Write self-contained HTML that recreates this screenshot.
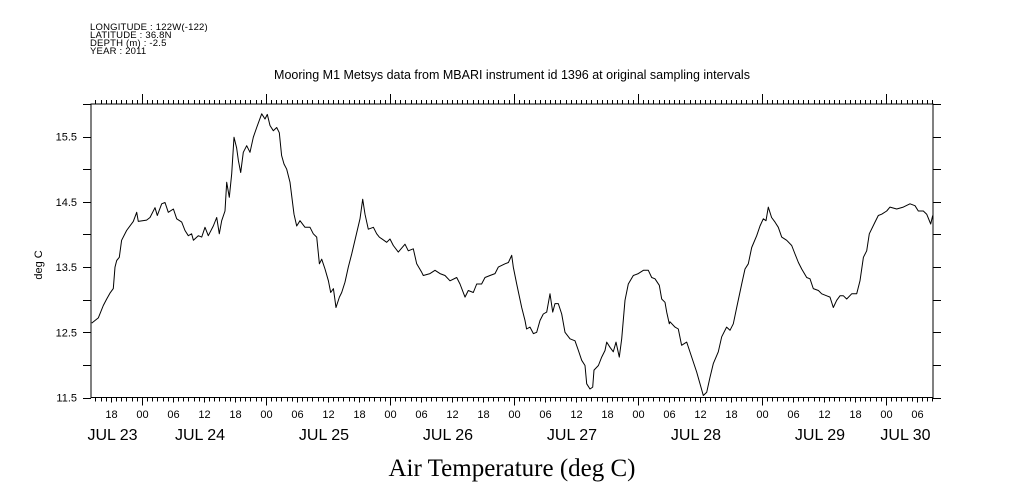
<!DOCTYPE html>
<html><head><meta charset="utf-8"><style>
html,body{margin:0;padding:0;background:#fff;}
svg{display:block;}
text{font-family:"Liberation Sans",sans-serif;fill:#000;}
</style></head><body>
<svg id="chart" width="1009" height="504" viewBox="0 0 1009 504" xmlns="http://www.w3.org/2000/svg">
<g font-size="9.5" letter-spacing="0.2">
<text x="90" y="30">LONGITUDE : 122W(-122)</text>
<text x="90" y="38">LATITUDE : 36.8N</text>
<text x="90" y="46">DEPTH (m) : -2.5</text>
<text x="90" y="54">YEAR : 2011</text>
</g>
<text x="512" y="79" text-anchor="middle" font-size="12.5">Mooring M1 Metsys data from MBARI instrument id 1396 at original sampling intervals</text>
<text x="512" y="476" text-anchor="middle" font-size="25" style="font-family:'Liberation Serif',serif">Air Temperature (deg C)</text>
<text transform="translate(42,265) rotate(-90)" text-anchor="middle" font-size="11">deg C</text>
<g id="axes"></g>
<g id="marks"></g>
</svg>
<script>
const hours = [-9.74,-8.45,-7.48,-6.84,-6.19,-5.55,-5.23,-4.90,-4.39,-3.94,-2.97,-1.68,-1.03,-0.71,0.90,1.55,2.52,2.97,3.81,4.45,5.10,6.07,6.71,7.68,8.32,8.97,9.61,9.94,10.90,11.55,12.20,12.84,13.81,14.45,14.97,15.42,16.07,16.39,16.90,17.36,17.81,18.32,18.65,19.10,19.61,20.26,20.91,21.55,22.20,23.16,23.81,24.26,24.78,25.42,26.07,26.58,27.03,27.49,28.00,28.65,29.42,29.94,30.58,31.55,32.52,33.16,33.81,34.33,34.78,35.42,36.07,36.52,37.04,37.55,38.20,38.65,39.29,39.94,40.58,41.42,42.20,42.71,43.16,43.81,44.78,45.42,45.94,
47.36,48.00,48.65,49.61,50.90,51.55,52.52,53.16,54.13,54.45,55.74,56.71,57.68,58.65,59.61,60.91,61.55,62.52,63.16,64.13,64.78,65.74,66.39,67.36,68.33,68.97,70.26,70.91,71.55,71.87,72.52,73.49,74.13,74.45,75.10,75.75,76.39,77.04,77.68,78.33,78.97,79.49,79.94,80.58,81.23,81.87,82.84,83.81,84.46,85.10,85.75,86.07,86.71,87.23,87.49,88.33,88.97,89.62,89.94,90.58,91.23,91.75,92.39,92.84,93.49,94.13,95.10,96.07,97.04,98.00,98.65,99.29,100.13,100.58,101.23,101.55,102.07,
102.20,103.16,103.81,104.45,105.42,106.39,107.36,108.00,108.65,109.29,109.94,110.58,111.55,112.20,113.16,113.81,114.45,115.10,116.07,116.71,117.36,118.00,118.97,119.62,120.26,120.78,121.23,121.87,122.52,123.16,123.81,124.78,125.75,126.39,127.04,127.68,128.65,129.29,129.94,130.91,131.55,132.52,133.16,133.81,134.46,135.10,135.75,136.39,137.36,138.33,138.97,139.62,140.26,140.78,141.88,142.52,143.17,144.13,144.78,146.07,147.36,148.65,149.62,150.26,151.23,151.88,152.65,153.04];
const temps = [12.64,12.72,12.91,13.01,13.10,13.17,13.50,13.60,13.65,13.91,14.06,14.20,14.34,14.20,14.22,14.26,14.41,14.29,14.47,14.49,14.34,14.39,14.24,14.19,14.06,13.98,14.01,13.91,13.98,13.96,14.11,13.98,14.13,14.26,14.01,14.21,14.36,14.80,14.57,14.93,15.49,15.33,15.13,14.95,15.26,15.36,15.26,15.49,15.64,15.85,15.77,15.84,15.67,15.59,15.64,15.56,15.21,15.08,15.00,14.80,14.31,14.13,14.21,14.11,14.11,14.01,13.96,13.55,13.62,13.47,13.29,13.11,13.17,12.88,13.04,13.11,13.27,13.50,13.70,13.98,14.24,14.54,14.31,14.08,14.11,14.01,13.96,
13.88,13.93,13.83,13.73,13.85,13.75,13.78,13.55,13.42,13.37,13.40,13.45,13.40,13.37,13.29,13.34,13.24,13.04,13.14,13.11,13.24,13.24,13.34,13.37,13.40,13.50,13.55,13.57,13.68,13.50,13.24,12.88,12.68,12.55,12.58,12.48,12.50,12.68,12.78,12.81,13.09,12.81,12.94,12.94,12.78,12.50,12.40,12.37,12.22,12.07,11.99,11.71,11.63,11.66,11.92,11.99,12.12,12.22,12.35,12.27,12.20,12.35,12.12,12.40,12.99,13.24,13.37,13.40,13.45,13.45,13.34,13.32,13.22,13.01,12.96,12.81,12.63,
12.66,12.58,12.55,12.30,12.35,12.12,11.89,11.71,11.53,11.58,11.81,12.02,12.20,12.43,12.58,12.53,12.63,12.88,13.24,13.47,13.55,13.80,13.98,14.13,14.24,14.21,14.42,14.26,14.19,14.11,13.96,13.91,13.83,13.70,13.57,13.47,13.34,13.32,13.17,13.14,13.09,13.06,13.04,12.88,12.99,13.06,13.06,13.01,13.09,13.09,13.29,13.65,13.75,14.01,14.19,14.29,14.31,14.36,14.42,14.39,14.42,14.47,14.44,14.36,14.36,14.31,14.16,14.29];
const yTickLabels = ["11.5","12.5","13.5","14.5","15.5"];
const dayLabels = ["JUL 23","JUL 24","JUL 25","JUL 26","JUL 27","JUL 28","JUL 29","JUL 30"];
const hourLabels = ["00","06","12","18"];

const L=91,R=933,T=104,B=397.5;
const tMin=-9.87,tMax=153.1,vMin=11.5,vMax=16.0;
const xs=t=>L+(t-tMin)/(tMax-tMin)*(R-L);
const ys=v=>B-(v-vMin)/(vMax-vMin)*(B-T);
const NS='http://www.w3.org/2000/svg';
const axes=document.getElementById('axes'), marks=document.getElementById('marks');
function mk(tag,attrs,parent){const e=document.createElementNS(NS,tag);for(const k in attrs)e.setAttribute(k,attrs[k]);parent.appendChild(e);return e;}
let d='';
function seg(x1,y1,x2,y2){d+='M'+x1+' '+y1+'L'+x2+' '+y2;}
const fr=mk('rect',{x:L,y:T,width:R-L,height:B-T,fill:'none',stroke:'#000','stroke-width':1},axes);


for(let v=vMin;v<=vMax+1e-6;v+=0.5){const y=Math.round(ys(v))+0.5;seg(L-8,y,L,y);seg(R,y,R+8,y);}
yTickLabels.forEach(s=>{const v=parseFloat(s);const t=mk('text',{x:L-14,y:ys(v)+4,'text-anchor':'end','font-size':11},axes);t.textContent=s;

});
for(let h=Math.ceil(tMin);h<=tMax;h++){const x=Math.round(xs(h))+0.5;const major=((h%24)+24)%24===0;const six=((h%6)+6)%6===0;
 seg(x,B,x,B+(major?8:(six?5:4)));
 seg(x,T,x,T-(major?10:4));
 if(six){const lab=hourLabels[(((h%24)+24)%24)/6];const t=mk('text',{x:x,y:418,'text-anchor':'middle','font-size':11},axes);t.textContent=lab;
 
 }}
mk('path',{d:d,stroke:'#000','stroke-width':1,fill:'none'},axes);
dayLabels.forEach((s,i)=>{let a=(i-1)*24,b=a+24;a=Math.max(a,tMin);b=Math.min(b,tMax);let x=(xs(a)+xs(b))/2-4;
 const t=mk('text',{x:x,y:440,'text-anchor':'middle','font-size':16},axes);t.textContent=s;
 
 });
const p=mk('path',{d:hours.map((h,i)=>(i?'L':'M')+xs(h).toFixed(1)+' '+ys(temps[i]).toFixed(1)).join(''),fill:'none',stroke:'#000','stroke-width':1,'stroke-linejoin':'round'},marks);


</script>
</body></html>
